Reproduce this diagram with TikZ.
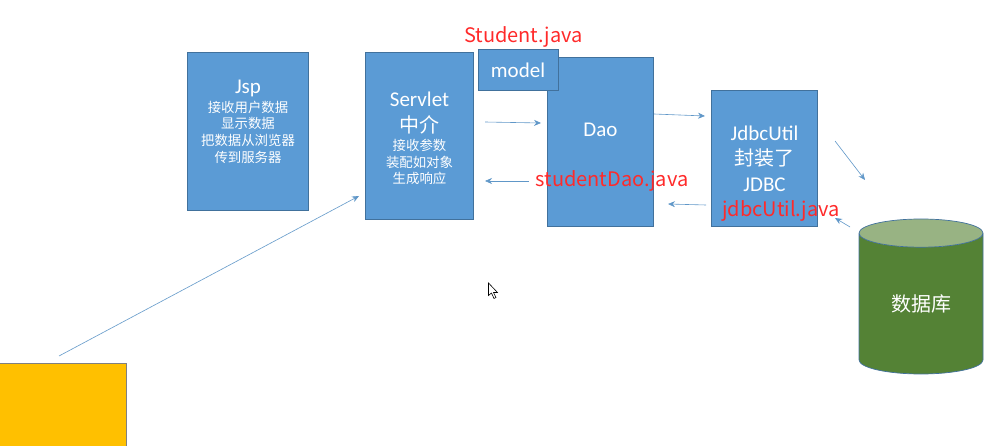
\documentclass[tikz,border=0pt]{standalone}
\usepackage{fontspec}
\setmainfont{Noto Sans CJK SC}
\newfontfamily\latinfont{Carlito}
\usetikzlibrary{arrows.meta,shapes.geometric}

\definecolor{boxblue}{HTML}{5B9BD5}
\definecolor{boxedge}{HTML}{41719C}
\definecolor{dbgreen}{HTML}{548235}
\definecolor{dbtop}{HTML}{98B383}
\definecolor{boxgold}{HTML}{FFC000}
\definecolor{notered}{HTML}{FF2A2A}

\newcommand{\bigtext}{\fontsize{20}{25}\selectfont}
\newcommand{\smalltext}{\fontsize{13.4}{16.6}\selectfont}
\newcommand{\latintext}{\latinfont\fontsize{21}{25}\selectfont}

\tikzset{
  boxnode/.style={draw=boxedge, fill=boxblue, text=white, align=center, inner sep=0pt, line width=0.7pt},
  flow/.style={draw=boxblue!85!gray, line width=0.6pt, -{Stealth[length=7pt,width=6pt]}},
  redtext/.style={text=notered, inner sep=0pt, font=\fontsize{20}{24}\selectfont},
}

\begin{document}
\begin{tikzpicture}[x=1pt, y=-1pt]
\useasboundingbox (0,0) rectangle (985,446);

% === Jsp ===
\node[boxnode, font=\smalltext, minimum width=121pt, minimum height=158pt] (jsp) at (248,131.5)
  {{\latintext Jsp}\\[2pt]
   接收用户数据\\显示数据\\把数据从浏览器\\传到服务器\\[4pt]~};

% === Servlet ===
\node[boxnode, font=\smalltext, minimum width=108pt, minimum height=167pt] (servlet) at (419.5,136)
  {\rule{0pt}{20pt}{\latintext Servlet}\\[7pt]{\bigtext 中介}\\[2pt]
   接收参数\\装配如对象\\生成响应};

% === Dao ===
\node[boxnode, minimum width=106pt, minimum height=169pt] (dao) at (600.5,142)
  {\raisebox{24pt}{\latintext Dao}};

% === model on top of Dao ===
\node[boxnode, minimum width=80pt, minimum height=41pt] (model) at (518,70)
  {\latintext model};

% === JdbcUtil ===
\node[boxnode, font=\bigtext, minimum width=106pt, minimum height=136pt] (jdbc) at (764.5,158.5)
  {{\latintext JdbcUtil}\\封装了\\[1pt]{\latintext JDBC}};

% === Database ===
\node[cylinder, shape border rotate=90, aspect=0.47, anchor=shape center, draw=boxedge, line width=0.7pt,
  cylinder uses custom fill, cylinder body fill=dbgreen, cylinder end fill=dbtop,
  text=white, inner sep=0pt, minimum width=124pt, minimum height=155pt] (db) at (921,296.5)
  {\bigtext 数据库};

% === Browser ===
\node[draw=gray, fill=boxgold, inner sep=0pt, minimum width=129pt, minimum height=85pt] (browser) at (62,405.5) {};

% === Red labels ===
\node[redtext] (studentlabel) at (523.5,37) {Student.java};
\node[redtext] (daolabel) at (612,181) {studentDao.java};
\node[redtext] (jdbclabel) at (781,211) {jdbcUtil.java};

% === Free ends of the arrows ===
\coordinate (a1) at (59,356);
\coordinate (a2) at (359,196);
\coordinate (b1) at (485,122);
\coordinate (b2) at (541,123);
\coordinate (c1) at (654,114);
\coordinate (c2) at (705,116);
\coordinate (d1) at (835,141);
\coordinate (d2) at (865,180);
\coordinate (e1) at (850,227);
\coordinate (e2) at (835,218);
\coordinate (f1) at (706,205);
\coordinate (f2) at (668,204);
\coordinate (g1) at (529,181);
\coordinate (g2) at (485,181);

\draw[flow] (a1) -- (a2);
\draw[flow] (b1) -- (b2);
\draw[flow] (c1) -- (c2);
\draw[flow] (d1) -- (d2);
\draw[flow] (e1) -- (e2);
\draw[flow] (f1) -- (f2);
\draw[flow] (g1) -- (g2);

% === Mouse pointer ===
\draw[black, fill=white, line width=0.6pt] (488.5,283) -- (488.5,295.5) -- (491.5,293) -- (494,298.5) -- (496,297.5) -- (493.5,292.5) -- (497.5,292.5) -- cycle;

\end{tikzpicture}
\end{document}
